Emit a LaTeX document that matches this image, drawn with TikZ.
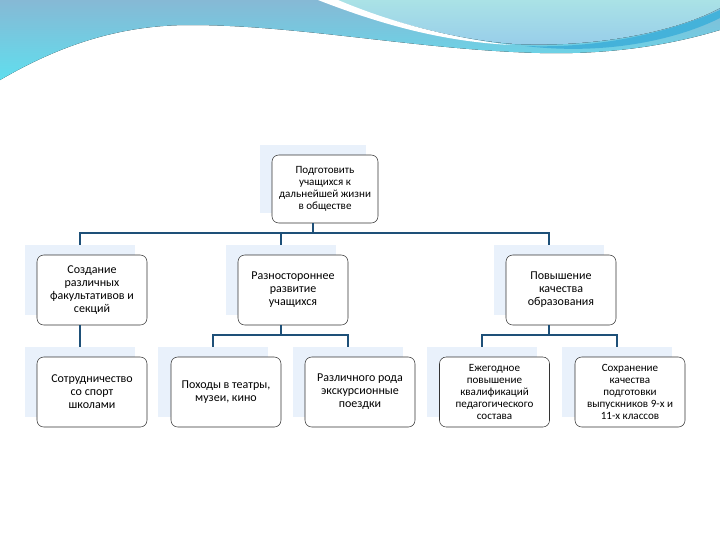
\documentclass[tikz,border=0pt]{standalone}
\usepackage{fontspec}
\setmainfont{Carlito}
\usetikzlibrary{positioning}
\definecolor{linkblue}{RGB}{30,80,120}
\definecolor{shadeblue}{RGB}{233,241,251}
\definecolor{waveTop}{RGB}{134,185,213}
\definecolor{waveBot}{RGB}{96,222,238}
\definecolor{paleTop}{RGB}{170,226,230}
\definecolor{paleBot}{RGB}{150,204,234}
\definecolor{bandblue}{RGB}{68,178,218}

\tikzset{
  card/.style={draw=black!80, fill=white, rounded corners=5pt,
    minimum width=82.5pt, minimum height=52.5pt, align=center,
    inner sep=2pt, font=\fontsize{9}{9.75}\selectfont},
  smallcard/.style={card, font=\fontsize{8.3}{9}\selectfont},
  cardbg/.style={fill=shadeblue, minimum width=82.5pt, minimum height=52.5pt},
  link/.style={draw=linkblue, line width=1.6pt},
}

\begin{document}
\begin{tikzpicture}[x=0.75pt, y=-0.75pt]
    \useasboundingbox (0,0) rectangle (720,540);
    \fill[white] (0,0) rectangle (720,540);

    % Wave at the top
    \fill[top color=waveTop, bottom color=waveBot]
      (0,0) -- (0,80) .. controls (60,45) and (120,25) .. (190,25)
      .. controls (300,25) and (420,50) .. (540,53)
      .. controls (620,55) and (680,42) .. (720,30) -- (720,0) -- cycle;
    \fill[top color=paleTop, bottom color=paleBot]
      (330,0) .. controls (400,25) and (460,40) .. (515,44)
      .. controls (600,48) and (680,30) .. (720,8) -- (720,0) -- cycle;
    \fill[bandblue]
      (525,46) .. controls (610,49) and (680,28) .. (720,10) -- (720,18)
      .. controls (680,38) and (610,56) .. (525,46) -- cycle;
    \fill[white]
      (318,0) .. controls (390,28) and (450,42) .. (512,45)
      .. controls (450,38) and (390,22) .. (338,0) -- cycle;

    % Top goal
    \node[cardbg, minimum width=79.5pt, minimum height=51pt] (goal-bg) at (313,179) {};
    \node[smallcard, minimum width=79.5pt, minimum height=51pt] (goal) at (325,189)
      {Подготовить\\учащихся к\\дальнейшей жизни\\в обществе};

    % Second level
    \node[cardbg] (create-bg) at (80,280) {};
    \node[card] (create) at (92,290) {Создание\\различных\\факультативов и\\секций};
    \node[cardbg] (develop-bg) at (281,280) {};
    \node[card] (develop) at (293,290) {Разностороннее\\развитие\\учащихся};
    \node[cardbg] (quality-bg) at (549,280) {};
    \node[card] (quality) at (561,290) {Повышение\\качества\\образования};

    % Third level
    \node[cardbg] (sport-bg) at (80,382) {};
    \node[card] (sport) at (92,392) {Сотрудничество\\со спорт\\школами};
    \node[cardbg] (theatre-bg) at (213,382) {};
    \node[card] (theatre) at (226,392) {Походы в театры,\\музеи, кино};
    \node[cardbg] (trips-bg) at (348,382) {};
    \node[card] (trips) at (360,392) {Различного рода\\экскурсионные\\поездки};
    \node[cardbg] (training-bg) at (482,382) {};
    \node[smallcard] (training) at (494.5,392)
      {Ежегодное\\повышение\\квалификаций\\педагогического\\состава};
    \node[cardbg] (keep-bg) at (617,382) {};
    \node[smallcard] (keep) at (630,392)
      {Сохранение\\качества\\подготовки\\выпускников 9-х и\\11-х классов};

    % Connectors
    \coordinate (bus1) at (0,233);
    \coordinate (bus2) at (0,335);
    \draw[link] (goal.south -| goal-bg) -- (goal-bg |- bus1);
    \draw[link] (create-bg.north) |- (bus1 -| quality-bg) -- (quality-bg.north);
    \draw[link] (develop-bg.north) -- (develop-bg |- bus1);

    \draw[link] (create.south -| sport-bg) -- (sport-bg.north);

    \draw[link] (develop.south -| develop-bg) -- (develop-bg |- bus2);
    \draw[link] (theatre-bg.north) |- (bus2 -| trips-bg) -- (trips-bg.north);

    \draw[link] (quality.south -| quality-bg) -- (quality-bg |- bus2);
    \draw[link] (training-bg.north) |- (bus2 -| keep-bg) -- (keep-bg.north);
\end{tikzpicture}
\end{document}
